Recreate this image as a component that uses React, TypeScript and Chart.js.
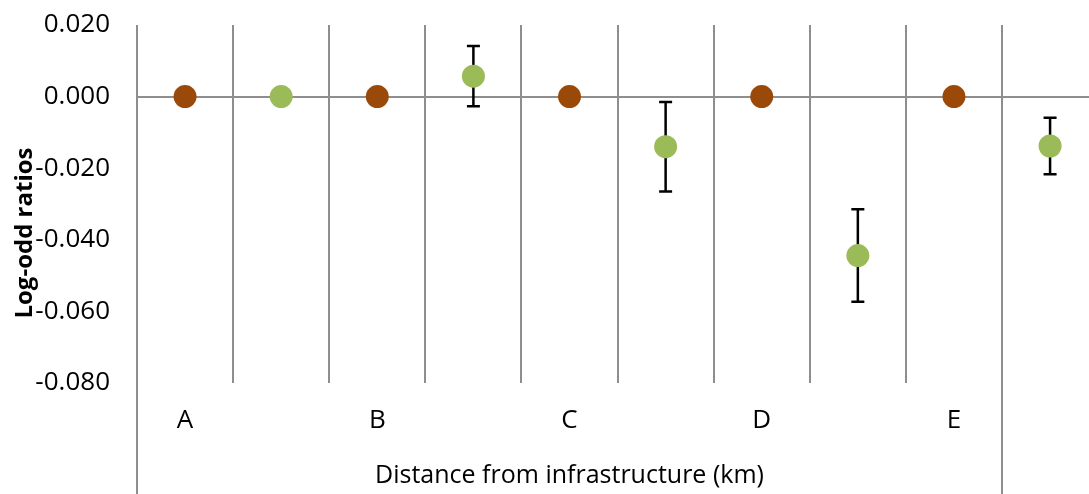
import React, { useEffect, useRef } from "react";
import { Chart, registerables } from "chart.js";

Chart.register(...registerables);

// Slot labels along the category axis (brown marker slot, then green marker slot)
const categories = ["A", "", "B", "", "C", "", "D", "", "E", ""];
const groupTitle = "Distance from infrastructure (km)";
const yTitle = "Log-odd ratios";

// Reference level (brown) and estimated log-odd ratios (green) per distance class
const referenceValues = [0, 0, 0, 0, 0];
const estimateValues = [0, 0.0057, -0.014, -0.0444, -0.0138];
// Half-width of the error bar around each estimate (null = no bar)
const estimateErrors = [null, 0.0084, 0.0125, 0.0129, 0.0079];

const yTicks = [0.02, 0, -0.02, -0.04, -0.06, -0.08];

const BROWN = "#9A4909";
const GREEN = "#9BBB59";
const GRID = "#8E8E8E";
const FONT = "'Open Sans', 'Noto Sans', sans-serif";

const decorPlugin = {
  id: "decor",
  beforeDatasetsDraw(chart: any) {
    const { ctx, scales } = chart;
    const xs = scales.x;
    const ys = scales.y;
    ctx.save();
    ctx.strokeStyle = "#000000";
    ctx.lineWidth = 2.5;
    estimateValues.forEach((v, i) => {
      const e = estimateErrors[i];
      if (e == null) return;
      const x = xs.getPixelForValue(i * 2 + 1);
      const yTop = ys.getPixelForValue(v + e);
      const yBot = ys.getPixelForValue(v - e);
      const cap = 6.5;
      ctx.beginPath();
      ctx.moveTo(x, yTop);
      ctx.lineTo(x, yBot);
      ctx.moveTo(x - cap, yTop);
      ctx.lineTo(x + cap, yTop);
      ctx.moveTo(x - cap, yBot);
      ctx.lineTo(x + cap, yBot);
      ctx.stroke();
    });
    ctx.restore();
  },
  afterDraw(chart: any) {
    const { ctx, scales, chartArea } = chart;
    const xs = scales.x;
    const left = xs.getPixelForValue(-0.5);
    const right = xs.getPixelForValue(categories.length - 1.5);
    ctx.save();
    // group bracket lines reaching below the slot labels
    ctx.strokeStyle = GRID;
    ctx.lineWidth = 2;
    [left, right].forEach((px) => {
      const x = Math.round(px);
      ctx.beginPath();
      ctx.moveTo(x, chartArea.bottom);
      ctx.lineTo(x, chart.height);
      ctx.stroke();
    });
    // group title
    ctx.fillStyle = "#000000";
    ctx.font = `25px ${FONT}`;
    ctx.textAlign = "center";
    ctx.textBaseline = "middle";
    ctx.fillText(groupTitle, (left + right) / 2, 476);
    // y-axis title
    ctx.translate(25, 233);
    ctx.rotate(-Math.PI / 2);
    ctx.font = `bold 24px ${FONT}`;
    ctx.fillText(yTitle, 0, 0);
    ctx.restore();
  },
};

export default function App() {
  const canvasRef = useRef<HTMLCanvasElement | null>(null);

  useEffect(() => {
    if (!canvasRef.current) return;
    const chart = new Chart(canvasRef.current, {
      type: "scatter",
      data: {
        datasets: [
          {
            label: "Reference",
            data: referenceValues.map((v, i) => ({ x: i * 2, y: v })),
            backgroundColor: BROWN,
            borderColor: BROWN,
            borderWidth: 0,
            pointRadius: 11.5,
            pointHoverRadius: 11.5,
          },
          {
            label: "Estimate",
            data: estimateValues.map((v, i) => ({ x: i * 2 + 1, y: v })),
            backgroundColor: GREEN,
            borderColor: GREEN,
            borderWidth: 0,
            pointRadius: 11.5,
            pointHoverRadius: 11.5,
          },
        ],
      },
      options: {
        responsive: false,
        animation: false,
        events: [],
        layout: { autoPadding: false, padding: { top: 25, right: 0, left: 0, bottom: 0 } },
        plugins: {
          legend: { display: false },
          tooltip: { enabled: false },
          title: { display: false },
        },
        scales: {
          x: {
            type: "linear",
            min: -0.5,
            max: 9.405,
            afterBuildTicks: (scale: any) => {
              scale.ticks = categories.map((_, i) => ({ value: i }));
            },
            afterFit: (scale: any) => {
              scale.height = 111;
              scale.paddingLeft = 0;
              scale.paddingRight = 0;
            },
            grid: {
              display: true,
              offset: true,
              color: GRID,
              lineWidth: 2,
              drawTicks: false,
            },
            border: { display: false },
            ticks: {
              autoSkip: false,
              maxRotation: 0,
              minRotation: 0,
              padding: 22,
              color: "#000000",
              font: { family: FONT, size: 26 },
              callback: (value: any) => categories[Math.round(Number(value))] ?? "",
            },
          },
          y: {
            type: "linear",
            min: -0.08,
            max: 0.02,
            afterBuildTicks: (scale: any) => {
              scale.ticks = yTicks.map((v) => ({ value: v }));
            },
            afterFit: (scale: any) => {
              scale.width = 137;
              scale.paddingTop = 0;
              scale.paddingBottom = 0;
            },
            grid: {
              display: true,
              drawTicks: false,
              lineWidth: 2,
              color: (ctx: any) =>
                ctx.tick && Math.abs(ctx.tick.value) < 1e-9 ? GRID : "rgba(0,0,0,0)",
            },
            border: { display: false },
            ticks: {
              padding: 27,
              color: "#000000",
              font: { family: FONT, size: 26 },
              callback: (value: any) => Number(value).toFixed(3),
            },
          },
        },
      },
      plugins: [decorPlugin],
    });
    return () => chart.destroy();
  }, []);

  return (
    <div style={{ position: "fixed", left: 0, top: 0, width: 1089, height: 494, background: "#ffffff" }}>
      <canvas ref={canvasRef} width={1089} height={494} style={{ display: "block" }} />
    </div>
  );
}
